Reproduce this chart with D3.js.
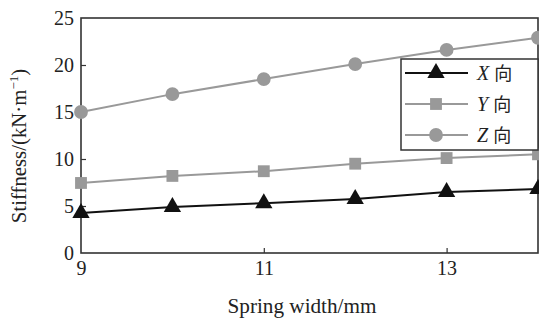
<!DOCTYPE html>
<html>
<head>
<meta charset="utf-8">
<script src="https://cdn.jsdelivr.net/npm/d3@7"></script>
<style>
  body { margin: 0; background: #fff; }
  text { font-family: "Liberation Serif", "Times New Roman", serif; fill: #222; }
</style>
</head>
<body>
<svg id="chart" width="539" height="322"></svg>
<script>
// spring width (mm)
const widths = [9, 10, 11, 12, 13, 14];
// stiffness in each direction (kN/m)
const stiffX = [4.25, 4.9, 5.3, 5.75, 6.5, 6.8];
const stiffY = [7.45, 8.2, 8.7, 9.5, 10.1, 10.5];
const stiffZ = [15.0, 16.9, 18.5, 20.1, 21.6, 22.9];
const xTicks = [9, 11, 13];
const yTicks = [0, 5, 10, 15, 20, 25];
const seriesNames = ["X", "Y", "Z"];

let svg = d3.select("#chart");
let margin = {top: 18, left: 81, right: 1, bottom: 69};
let width = 539 - margin.left - margin.right;
let height = 322 - margin.top - margin.bottom;

let x = d3.scaleLinear().domain([9, 14]).range([0, width]);
let y = d3.scaleLinear().domain([0, 25]).range([height, 0]);

let g = svg.append("g")
    .attr("transform", "translate(" + margin.left + "," + margin.top + ")");

// frame
g.append("rect")
    .attr("width", width).attr("height", height)
    .attr("fill", "none").attr("stroke", "#333").attr("stroke-width", 1.6);

// axes with inward ticks
let xAxis = g.append("g")
    .attr("transform", "translate(0," + height + ")")
    .call(d3.axisBottom(x).tickValues(xTicks).tickFormat(d3.format("d")).tickSize(-5).tickPadding(8));
let yAxis = g.append("g")
    .call(d3.axisLeft(y).tickValues(yTicks).tickFormat(d3.format("d")).tickSize(-5).tickPadding(7));

[xAxis, yAxis].forEach(a => {
    a.select(".domain").remove();
    a.selectAll("line").attr("stroke", "#333").attr("stroke-width", 1.2);
    a.selectAll("text")
        .attr("fill", "#222")
        .style("font-family", "'Liberation Serif', serif")
        .style("font-size", "20px");
});
yAxis.selectAll(".tick").filter(d => d === 0 || d === 25).select("line").remove();
xAxis.selectAll(".tick").filter(d => d === 9).select("line").remove();

// axis titles
let xl = svg.append("text")
    .attr("x", 302).attr("y", 313)
    .attr("text-anchor", "middle")
    .style("font-size", "21px")
    .text("Spring width/mm");

let yl = svg.append("text")
    .attr("transform", "translate(26,146) rotate(-90)")
    .attr("text-anchor", "middle")
    .style("font-size", "20px");
yl.append("tspan").text("Stiffness/(kN·m");
yl.append("tspan").attr("dy", -8).style("font-size", "13px").text("−1");
yl.append("tspan").attr("dy", 8).text(")");

// fit the titles to the lengths seen in the picture
function fitTo(sel, target, base) {
    let len = sel.node().getComputedTextLength();
    if (len > 0) sel.style("font-size", (base * target / len).toFixed(1) + "px");
}
fitTo(xl, 149, 21);
fitTo(yl, 155, 20);

let series = [
    {name: seriesNames[0], values: stiffX, color: "#111", shape: d3.symbolTriangle, size: 130},
    {name: seriesNames[1], values: stiffY, color: "#999", shape: d3.symbolSquare, size: 140},
    {name: seriesNames[2], values: stiffZ, color: "#999", shape: d3.symbolCircle, size: 150}
];

let line = d3.line()
    .x((d, i) => x(widths[i]))
    .y(d => y(d));

series.slice().reverse().forEach(s => {
    g.append("path")
        .datum(s.values)
        .attr("d", line)
        .attr("fill", "none")
        .attr("stroke", s.color)
        .attr("stroke-width", 2);
    g.selectAll(null)
        .data(s.values)
        .enter().append("path")
        .attr("transform", (d, i) => "translate(" + x(widths[i]) + "," + y(d) + ")")
        .attr("d", d3.symbol().type(s.shape).size(s.size))
        .attr("fill", s.color);
});

// legend
let legend = svg.append("g").attr("transform", "translate(401,59)");
legend.append("rect")
    .attr("width", 137).attr("height", 91)
    .attr("fill", "#fff").attr("stroke", "#333").attr("stroke-width", 1.5);

let rows = legend.selectAll(".row")
    .data(series)
    .enter().append("g")
    .attr("transform", (d, i) => "translate(0," + (14 + i * 31) + ")");
rows.append("line")
    .attr("x1", 4).attr("x2", 67)
    .attr("stroke", d => d.color).attr("stroke-width", 2);
rows.append("path")
    .attr("transform", "translate(35,0)")
    .attr("d", d => d3.symbol().type(d.shape).size(d.size)())
    .attr("fill", d => d.color);
let lt = rows.append("text")
    .attr("x", 76).attr("y", 7)
    .style("font-size", "20px");
lt.append("tspan").style("font-style", "italic").text(d => d.name);
lt.append("tspan").attr("dx", 5)
    .style("font-family", "'Noto Sans CJK SC', sans-serif")
    .style("font-size", "18px")
    .text("向");
</script>
</body>
</html>
